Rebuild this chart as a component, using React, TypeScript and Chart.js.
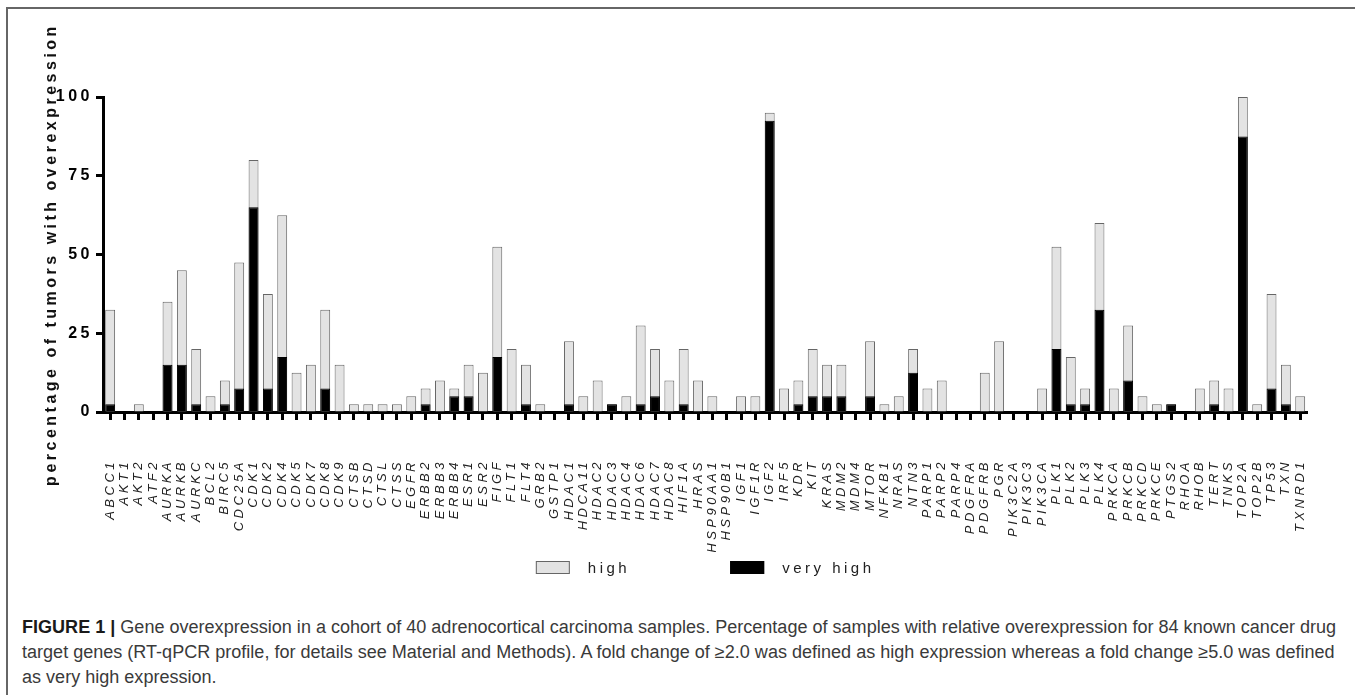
import React, { useEffect, useRef } from 'react';
import { Chart, registerables } from 'chart.js';

Chart.register(...registerables);

const genes = [
  'ABCC1', 'AKT1', 'AKT2', 'ATF2', 'AURKA', 'AURKB', 'AURKC', 'BCL2', 'BIRC5', 'CDC25A',
  'CDK1', 'CDK2', 'CDK4', 'CDK5', 'CDK7', 'CDK8', 'CDK9', 'CTSB', 'CTSD', 'CTSL',
  'CTSS', 'EGFR', 'ERBB2', 'ERBB3', 'ERBB4', 'ESR1', 'ESR2', 'FIGF', 'FLT1', 'FLT4',
  'GRB2', 'GSTP1', 'HDAC1', 'HDCA11', 'HDAC2', 'HDAC3', 'HDAC4', 'HDAC6', 'HDAC7', 'HDAC8',
  'HIF1A', 'HRAS', 'HSP90AA1', 'HSP90B1', 'IGF1', 'IGF1R', 'IGF2', 'IRF5', 'KDR', 'KIT',
  'KRAS', 'MDM2', 'MDM4', 'MTOR', 'NFKB1', 'NRAS', 'NTN3', 'PARP1', 'PARP2', 'PARP4',
  'PDGFRA', 'PDGFRB', 'PGR', 'PIK3C2A', 'PIK3C3', 'PIK3CA', 'PLK1', 'PLK2', 'PLK3', 'PLK4',
  'PRKCA', 'PRKCB', 'PRKCD', 'PRKCE', 'PTGS2', 'RHOA', 'RHOB', 'TERT', 'TNKS', 'TOP2A',
  'TOP2B', 'TP53', 'TXN', 'TXNRD1',
];

// percentage of tumors with fold change >= 2.0 (high, includes very high)
const highValues = [
  32.5, 0, 2.5, 0, 35, 45, 20, 5, 10, 47.5,
  80, 37.5, 62.5, 12.5, 15, 32.5, 15, 2.5, 2.5, 2.5,
  2.5, 5, 7.5, 10, 7.5, 15, 12.5, 52.5, 20, 15,
  2.5, 0, 22.5, 5, 10, 2.5, 5, 27.5, 20, 10,
  20, 10, 5, 0, 5, 5, 95, 7.5, 10, 20,
  15, 15, 0, 22.5, 2.5, 5, 20, 7.5, 10, 0,
  0, 12.5, 22.5, 0, 0, 7.5, 52.5, 17.5, 7.5, 60,
  7.5, 27.5, 5, 2.5, 2.5, 0, 7.5, 10, 7.5, 100,
  2.5, 37.5, 15, 5,
];

// percentage of tumors with fold change >= 5.0 (very high)
const veryHighValues = [
  2.5, 0, 0, 0, 15, 15, 2.5, 0, 2.5, 7.5,
  65, 7.5, 17.5, 0, 0, 7.5, 0, 0, 0, 0,
  0, 0, 2.5, 0, 5, 5, 0, 17.5, 0, 2.5,
  0, 0, 2.5, 0, 0, 2.5, 0, 2.5, 5, 0,
  2.5, 0, 0, 0, 0, 0, 92.5, 0, 2.5, 5,
  5, 5, 0, 5, 0, 0, 12.5, 0, 0, 0,
  0, 0, 0, 0, 0, 0, 20, 2.5, 2.5, 32.5,
  0, 10, 0, 0, 2.5, 0, 0, 2.5, 0, 87.5,
  0, 7.5, 2.5, 0,
];

const yTicks = [0, 25, 50, 75, 100];
const seriesNames = ['high', 'very high'];
const yTitle = 'percentage of tumors with overexpression';

const FAMILY = '"Liberation Sans", Arial, Helvetica, sans-serif';
const SPACING = '3.5px';

const letterSpacingPlugin = {
  id: 'letterSpacing',
  beforeUpdate(chart: any) {
    chart.ctx.letterSpacing = SPACING;
  },
  beforeLayout(chart: any) {
    chart.ctx.letterSpacing = SPACING;
  },
  beforeDraw(chart: any) {
    chart.ctx.letterSpacing = SPACING;
  },
};

const customLegend = {
  id: 'customLegend',
  afterDraw(chart: any) {
    const ctx = chart.ctx;
    const ca = chart.chartArea;
    ctx.save();
    ctx.letterSpacing = SPACING;
    ctx.font = `15px ${FAMILY}`;
    const boxW = 34;
    const boxH = 13;
    const gapText = 18;
    const gapItem = 100;
    const items = chart.data.datasets.map((ds: any) => ({
      label: ds.label,
      fill: ds.backgroundColor,
      stroke: ds.borderColor,
    }));
    const widths = items.map((it: any) => boxW + gapText + ctx.measureText(it.label).width);
    const total = widths.reduce((a: number, b: number) => a + b, 0) + gapItem * (items.length - 1);
    let x = (ca.left + ca.right) / 2 - total / 2;
    const cy = ca.bottom + 155.5;
    items.forEach((it: any, i: number) => {
      ctx.fillStyle = it.fill;
      ctx.fillRect(x, cy - boxH / 2, boxW, boxH);
      ctx.lineWidth = 1;
      ctx.strokeStyle = it.stroke;
      ctx.strokeRect(x + 0.5, cy - boxH / 2 + 0.5, boxW - 1, boxH - 1);
      ctx.fillStyle = '#222';
      ctx.textBaseline = 'middle';
      ctx.textAlign = 'left';
      ctx.fillText(it.label, x + boxW + gapText, cy + 1);
      x += widths[i] + gapItem;
    });
    ctx.restore();
  },
};

export default function App() {
  const canvasRef = useRef<HTMLCanvasElement | null>(null);
  const captionRef = useRef<HTMLDivElement | null>(null);
  const line1Ref = useRef<HTMLDivElement | null>(null);

  useEffect(() => {
    if (captionRef.current && line1Ref.current) {
      const w = line1Ref.current.getBoundingClientRect().width;
      if (w > 0) {
        const size = 16 * 1315 / w;
        captionRef.current.style.fontSize = `${size}px`;
      }
    }
    const canvas = canvasRef.current;
    if (!canvas) return;
    const chart = new Chart(canvas, {
      type: 'bar',
      data: {
        labels: genes,
        datasets: [
          {
            label: seriesNames[0],
            data: highValues,
            backgroundColor: '#e3e3e3',
            borderColor: '#666666',
            borderWidth: 1,
            order: 1,
            barPercentage: 0.69,
            categoryPercentage: 1,
          },
          {
            label: seriesNames[1],
            data: veryHighValues,
            backgroundColor: '#000000',
            borderColor: '#000000',
            borderWidth: 1,
            order: 0,
            barPercentage: 0.69,
            categoryPercentage: 1,
          },
        ],
      },
      options: {
        animation: false,
        responsive: true,
        maintainAspectRatio: false,
        layout: { padding: { top: 88, right: 33, bottom: 38, left: 0 } },
        plugins: {
          legend: { display: false },
          tooltip: { enabled: false },
        },
        scales: {
          x: {
            stacked: true,
            offset: true,
            grid: {
              display: true,
              drawOnChartArea: false,
              drawTicks: true,
              tickLength: 8,
              tickWidth: 3,
              color: '#000',
              tickColor: '#000',
              offset: false,
            },
            border: { display: true, color: '#000', width: 3 },
            ticks: {
              autoSkip: false,
              maxRotation: 90,
              minRotation: 90,
              padding: 39,
              color: '#222',
              font: { family: FAMILY, size: 13, style: 'italic' },
            },
            afterFit: (s: any) => {
              s.height = 140;
            },
          },
          y: {
            stacked: false,
            min: 0,
            max: 100,
            afterBuildTicks: (s: any) => {
              s.ticks = yTicks.map((v) => ({ value: v }));
            },
            ticks: {
              padding: 3,
              color: '#000',
              font: { family: FAMILY, size: 16, weight: 'bold' },
            },
            grid: {
              display: true,
              drawOnChartArea: false,
              drawTicks: true,
              tickLength: 7,
              tickWidth: 3,
              color: '#000',
              tickColor: '#000',
            },
            border: { display: true, color: '#000', width: 3 },
            title: {
              display: true,
              text: yTitle,
              color: '#111',
              font: { family: FAMILY, size: 16, weight: 'bold' },
              padding: { top: 33, bottom: 0 },
            },
            afterFit: (s: any) => {
              s.width = 94;
            },
          },
        },
      } as any,
      plugins: [letterSpacingPlugin, customLegend],
    });
    return () => chart.destroy();
  }, []);

  return (
    <div
      style={{
        position: 'absolute',
        left: 0,
        top: 0,
        width: 1355,
        height: 695,
        overflow: 'hidden',
        background: '#fff',
      }}
    >
      <div
        style={{
          position: 'absolute',
          left: 6,
          top: 7,
          width: 1400,
          height: 800,
          borderLeft: '2px solid #666',
          borderTop: '2px solid #666',
        }}
      />
      <div style={{ position: 'absolute', left: 9, top: 9, width: 1346, height: 581 }}>
        <canvas ref={canvasRef} />
      </div>
      <div
        ref={captionRef}
        style={{
          position: 'absolute',
          left: 22,
          top: 615,
          fontFamily: FAMILY,
          fontSize: 16,
          lineHeight: '25px',
          color: '#3a3a3a',
          whiteSpace: 'nowrap',
        }}
      >
        <div ref={line1Ref} style={{ display: 'inline-block' }}>
          <b style={{ color: '#1a1a1a' }}>FIGURE 1 |</b> Gene overexpression in a cohort of 40
          adrenocortical carcinoma samples. Percentage of samples with relative overexpression for
          84 known cancer drug
        </div>
        <div>
          target genes (RT-qPCR profile, for details see Material and Methods). A fold change of
          ≥2.0 was defined as high expression whereas a fold change ≥5.0 was defined
        </div>
        <div>as very high expression.</div>
      </div>
    </div>
  );
}
